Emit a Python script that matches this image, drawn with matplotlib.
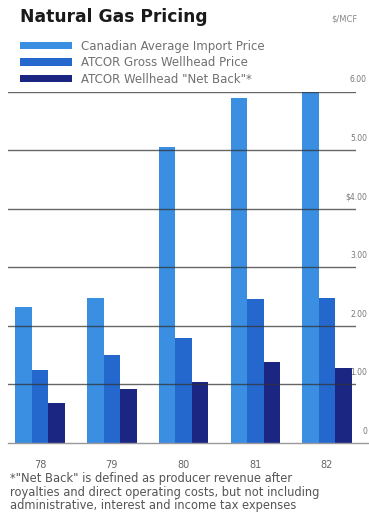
import matplotlib.pyplot as plt
from matplotlib.transforms import blended_transform_factory
import numpy as np

# Natural gas prices, $/MCF
years = ["78", "79", "80", "81", "82"]
import_price = [2.32, 2.48, 5.06, 5.90, 6.00]
gross_wellhead = [1.25, 1.50, 1.79, 2.46, 2.48]
net_back = [0.69, 0.92, 1.05, 1.39, 1.28]

series_names = ["Canadian Average Import Price",
                "ATCOR Gross Wellhead Price",
                "ATCOR Wellhead \"Net Back\"*"]
y_ticks = [0, 1, 2, 3, 4, 5, 6]
y_labels = ["0", "1.00", "2.00", "3.00", "$4.00", "5.00", "6.00"]

colors = ["#3a8fe2", "#2568cd", "#1b2683"]
grey = "#666666"

W, H = 369, 516
fig = plt.figure(figsize=(W / 100, H / 100), dpi=100)
ax = fig.add_axes([8 / W, (H - 443) / H, (356 - 8) / W, (443 - 91.7) / H])

x = np.arange(len(years))
w = 0.23
bars = []
for i, vals in enumerate([import_price, gross_wellhead, net_back]):
    bars.append(ax.bar(x + (i - 1) * w, vals, w, color=colors[i],
                       label=series_names[i], zorder=2, clip_on=False))

ax.set_xlim(-0.446, 4.404)
ax.set_ylim(0, 6)

# grid lines drawn over the bars, like the printed original
for t in y_ticks[1:]:
    ax.axhline(t, color="#333333", lw=1.0, alpha=0.75, zorder=3)
ax.axhline(0, color="#999999", lw=1.0, zorder=3, xmax=1.04, clip_on=False)

# value labels at the right edge, just above each grid line
edge = blended_transform_factory(fig.transFigure, ax.transData)
for t, lab in zip(y_ticks, y_labels):
    fig.text(367 / W, t + 0.2, lab, transform=edge, fontsize=5.5,
             color="#777777", va="center", ha="right")

for s in ax.spines.values():
    s.set_visible(False)
ax.set_yticks([])
ax.set_xticks(x)
ax.set_xticklabels(years, fontsize=7, color=grey)
ax.tick_params(axis="x", length=0, pad=12)

fig.text(20 / W, 1 - 17 / H, "Natural Gas Pricing", fontsize=12.3,
         weight="heavy", color="#1a1a1a", va="center", ha="left")
fig.text(331 / W, 1 - 19 / H, "$/MCF", fontsize=6, color="#888888",
         va="center", ha="left")

fig.legend(handles=bars, labels=series_names, loc="upper left",
           bbox_to_anchor=(15 / W, 1 - 35 / H), frameon=False,
           fontsize=8.5, labelcolor="#707070", handlelength=4.4,
           handleheight=0.6, labelspacing=0.3, handletextpad=0.8,
           borderaxespad=0)

note = ("*\"Net Back\" is defined as producer revenue after\n"
        "royalties and direct operating costs, but not including\n"
        "administrative, interest and income tax expenses")
fig.text(10 / W, 1 - 472 / H, note, fontsize=8.3, color="#555555",
         va="top", ha="left", linespacing=1.07)

fig.savefig("out.png", dpi=100)
